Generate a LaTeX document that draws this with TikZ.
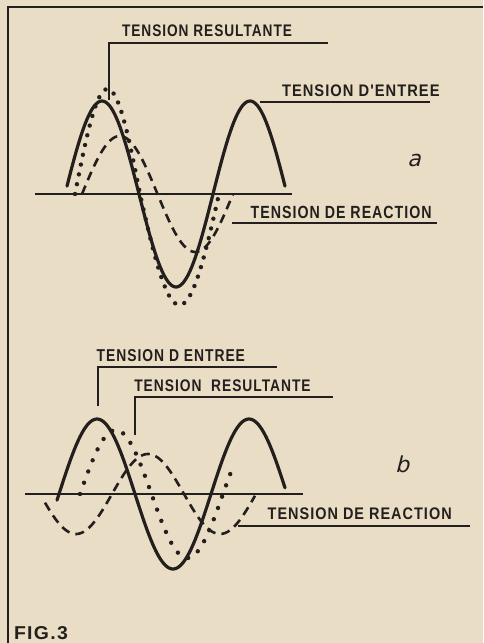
\documentclass[tikz,border=0pt]{standalone}
\usepackage{fontspec}
\usepackage{graphicx}
\newfontfamily\lett[LetterSpace=7]{Liberation Sans}
\newfontfamily\hand[FakeSlant=0.25]{DejaVu Sans}
\definecolor{paper}{RGB}{234,221,198}
\definecolor{ink}{RGB}{35,31,28}
\newcommand{\lab}[3]{\resizebox{#1pt}{#2pt}{\lett\bfseries #3}}
\tikzset{
  solidc/.style={ink, line width=3.2pt, line cap=round, line join=round},
  dotc/.style={ink, line width=4.4pt, line cap=round, dash pattern=on 0pt off 10pt},
  dotcb/.style={ink, line width=4.4pt, line cap=round, dash pattern=on 0pt off 12pt},
  dashc/.style={ink, line width=2.6pt, dash pattern=on 9pt off 6pt},
  axisl/.style={ink, line width=1.6pt},
  leader/.style={ink, line width=1.4pt},
  lbl/.style={anchor=south west, inner sep=0pt, outer sep=0pt, text=ink},
  letter/.style={inner sep=0pt, text=ink, font=\hand\fontsize{22}{22}\selectfont},
}
\begin{document}
\begin{tikzpicture}[x=1pt, y=-1pt]
\fill[paper] (0,0) rectangle (483,643);
\useasboundingbox (0,0) rectangle (483,643);
% frame
\draw[ink, line width=2pt] (8,643) -- (8,7) -- (483,7);

% ---------- panel a ----------
\coordinate (axAL) at (35,194);
\coordinate (axAR) at (292,194);
\draw[axisl] (axAL) -- (axAR);
\draw[solidc] plot[domain=67:285, samples=120] (\x, {194 - 93*sin((\x-65)/148*360)});
\draw[dotc] plot[domain=75:140, samples=50] (\x, {194 - 105*sin((\x-75)/65*180)})
  -- plot[domain=140:219, samples=60] (\x, {194 + 111*sin((\x-140)/79*180)});
\draw[dashc] plot[domain=82:233, samples=100] (\x, {194 - 58*sin((\x-82)/75.5*180)});

\node[lbl] (resA) at (122,37) {\lab{170}{11.7}{TENSION RESULTANTE}};
\node[lbl] (entA) at (282,96.7) {\lab{157.6}{11.7}{TENSION D'ENTREE}};
\node[lbl] (reaA) at (250.7,218.3) {\lab{181}{12.3}{TENSION DE REACTION}};
\coordinate (rA1) at (109,100);
\coordinate (rA2) at (109,43);
\coordinate (rA3) at (328,43);
\draw[leader] (rA1) -- (rA2) -- (rA3);
\coordinate (eA1) at (260,102);
\coordinate (eA2) at (430,102);
\draw[leader] (eA1) -- (eA2);
\coordinate (cA1) at (232,223);
\coordinate (cA2) at (437,223);
\draw[leader] (cA1) -- (cA2);
\node[letter] (la) at (414,160) {a};

% ---------- panel b ----------
\coordinate (axBL) at (25,494);
\coordinate (axBR) at (303,494);
\draw[axisl] (axBL) -- (axBR);
\draw[solidc] plot[domain=57:285, samples=120] (\x, {494 - 75*sin((\x-59)/152*360)});
\draw[dotcb] plot[domain=80:231, samples=100] (\x, {494 - 64*sin((\x-80)/143*360)});
\draw[dashc] plot[domain=45:255, samples=120] (\x, {494 - 40*sin((\x-112)/144*360)});

\node[lbl] (entB) at (96.7,361.7) {\lab{148.3}{12}{TENSION D ENTREE}};
\node[lbl] (resB) at (134.3,391.7) {\lab{176.4}{11.7}{TENSION\ \ RESULTANTE}};
\node[lbl] (reaB) at (267.7,520) {\lab{184}{11.7}{TENSION DE REACTION}};
\coordinate (eB1) at (98,406);
\coordinate (eB2) at (98,367);
\coordinate (eB3) at (277,367);
\draw[leader] (eB1) -- (eB2) -- (eB3);
\coordinate (rB1) at (135,435);
\coordinate (rB2) at (135,397);
\coordinate (rB3) at (333,397);
\draw[leader] (rB1) -- (rB2) -- (rB3);
\coordinate (cB1) at (238,526);
\coordinate (cB2) at (470,526);
\draw[leader] (cB1) -- (cB2);
\node[letter] (lb) at (402,464) {b};

% caption
\node[lbl] (fig) at (14,640) {\lab{54}{13}{FIG.3}};
\end{tikzpicture}
\end{document}
